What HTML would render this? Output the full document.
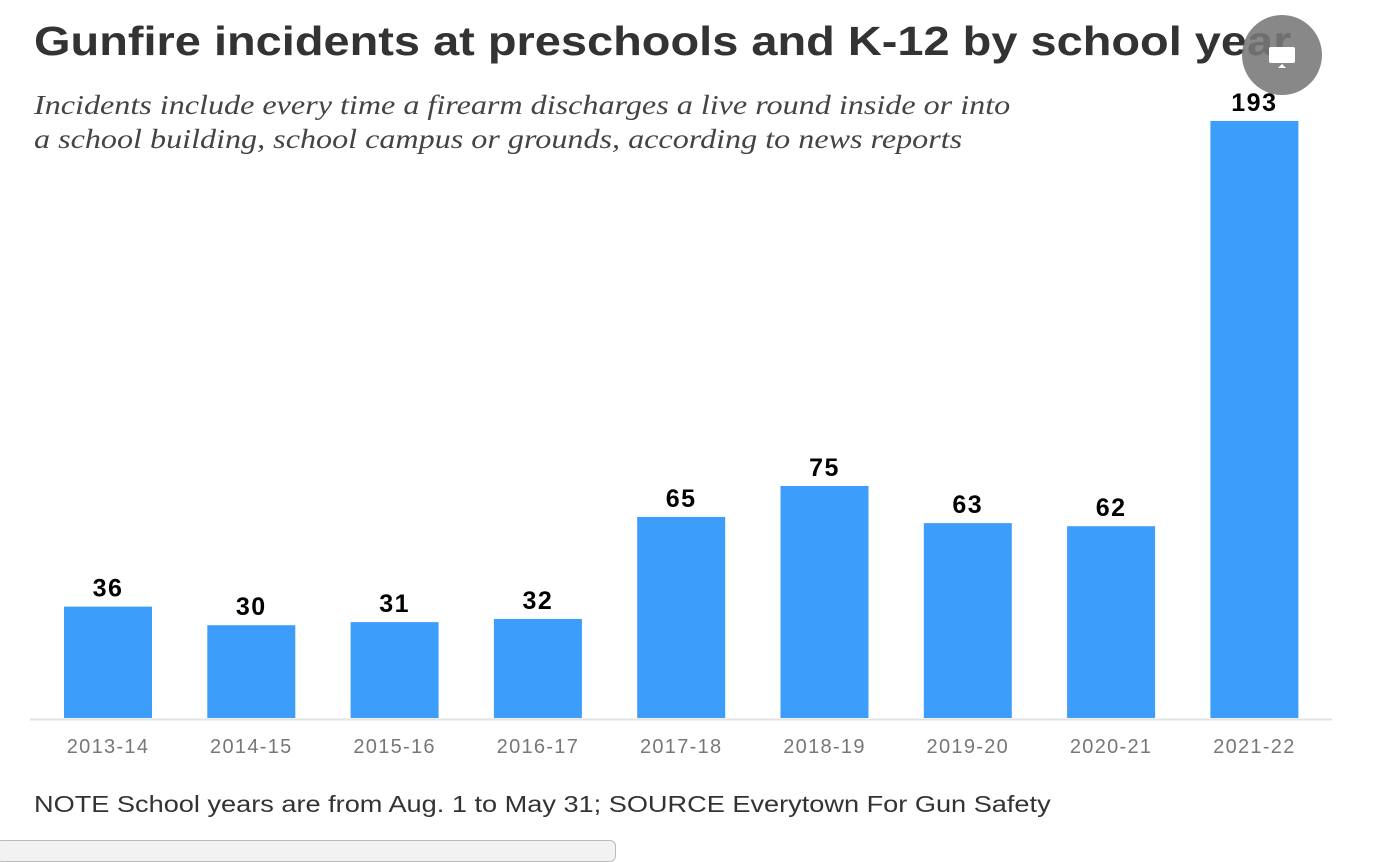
<!DOCTYPE html>
<html><head><meta charset="utf-8"><style>
body{margin:0;width:1374px;height:848px;background:#fff;overflow:hidden;position:relative;font-family:"Liberation Sans",sans-serif}
#title{position:absolute;left:34px;top:18px;font-size:41px;font-weight:bold;color:#333;white-space:nowrap;transform:scaleX(1.145);transform-origin:0 0}
#sub{position:absolute;left:34px;top:88px;font-family:"Liberation Serif",serif;font-style:italic;font-size:27px;line-height:34px;color:#444;white-space:nowrap;transform:scaleX(1.19);transform-origin:0 0}
#note{position:absolute;left:34px;top:791px;font-size:23px;color:#333;white-space:nowrap;transform:scaleX(1.18);transform-origin:0 0}
#tab{position:absolute;left:-4px;top:840px;width:618px;height:20px;background:#f2f2f2;border:1px solid #bbb;border-radius:6px}
#btn{position:absolute;left:1242px;top:15px;width:80px;height:80px;border-radius:50%;background:rgba(120,120,120,0.88)}
</style></head><body>
<div id="title">Gunfire incidents at preschools and K-12 by school year</div>
<div id="sub">Incidents include every time a firearm discharges a live round inside or into<br>a school building, school campus or grounds, according to news reports</div>
<svg id="chart" width="1374" height="848" style="position:absolute;left:0;top:0"></svg>
<div id="note">NOTE School years are from Aug. 1 to May 31; SOURCE Everytown For Gun Safety</div>
<div id="tab"></div>
<div id="btn">
<svg width="80" height="80"><rect x="27" y="32" width="26" height="16" rx="2" fill="#fff"/><polygon points="36,53 44,53 40,49" fill="#fff"/></svg>
</div>
<script>
const categories=["2013-14","2014-15","2015-16","2016-17","2017-18","2018-19","2019-20","2020-21","2021-22"];
const values=[36,30,31,32,65,75,63,62,193];
const NS="http://www.w3.org/2000/svg";
const svg=document.getElementById('chart');
const base=718, top0=121, vmax=193;
function y(v){return base-(base-top0)*v/vmax;}
function x(i){return 64+i*143.3;}
const bw=88;
const axis=document.createElementNS(NS,'line');


axis.setAttribute('x1',30);axis.setAttribute('x2',1332);axis.setAttribute('y1',719.5);axis.setAttribute('y2',719.5);
axis.setAttribute('stroke','#e3e3e3');axis.setAttribute('stroke-width',2);
svg.appendChild(axis);
values.forEach((v,i)=>{
  const r=document.createElementNS(NS,'rect');
  
  
  r.setAttribute('x',x(i));r.setAttribute('y',y(v));r.setAttribute('width',bw);r.setAttribute('height',base-y(v));
  r.setAttribute('fill','#3d9dfb');
  svg.appendChild(r);
  const t=document.createElementNS(NS,'text');
  
  
  t.setAttribute('x',x(i)+bw/2);t.setAttribute('y',y(v)-10);
  t.setAttribute('text-anchor','middle');t.setAttribute('font-size','25');t.setAttribute('font-weight','bold');
  t.setAttribute('letter-spacing','1.5');
  t.setAttribute('font-family','Liberation Sans, sans-serif');t.setAttribute('fill','#000');
  t.textContent=v;svg.appendChild(t);
  const c=document.createElementNS(NS,'text');
  
  
  c.setAttribute('x',x(i)+bw/2);c.setAttribute('y',753);
  c.setAttribute('text-anchor','middle');c.setAttribute('font-size','20');
  c.setAttribute('letter-spacing','1.3');
  c.setAttribute('font-family','Liberation Sans, sans-serif');c.setAttribute('fill','#777');
  c.textContent=categories[i];svg.appendChild(c);
});
</script>
</body></html>
